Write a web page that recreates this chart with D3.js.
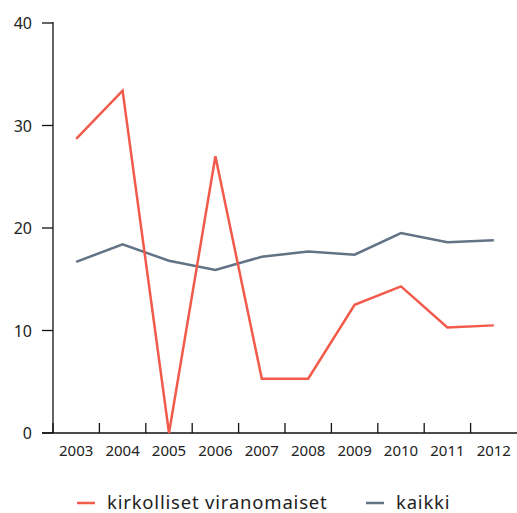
<!DOCTYPE html>
<html>
<head>
<meta charset="utf-8">
<script src="https://cdn.jsdelivr.net/npm/d3@7"></script>
<style>
  body { margin: 0; background: #fff; }
  text { font-family: "Noto Sans", sans-serif; fill: #222; }
</style>
</head>
<body>
<div id="chart"></div>
<script>
var years = ["2003","2004","2005","2006","2007","2008","2009","2010","2011","2012"];
var kirkolliset = [28.7, 33.4, 0, 27.0, 5.3, 5.3, 12.5, 14.3, 10.3, 10.5];
var kaikki = [16.7, 18.4, 16.8, 15.9, 17.2, 17.7, 17.4, 19.5, 18.6, 18.8];
var yTicks = [0, 10, 20, 30, 40];
var seriesNames = ["kirkolliset viranomaiset", "kaikki"];
var seriesColors = ["#f25a4b", "#627386"];

var width = 517, height = 513;
var mLeft = 53, mRight = 517, mTop = 23, mBottom = 433;

var svg = d3.select('#chart').append('svg')
    .attr('width', width)
    .attr('height', height);

var x = d3.scaleBand().domain(years).range([mLeft, mRight]);
var y = d3.scaleLinear().domain([0, 40]).range([mBottom, mTop]);

// x axis: line, ticks at band boundaries pointing up
svg.append('line')
    .attr('x1', 42).attr('x2', mRight)
    .attr('y1', mBottom).attr('y2', mBottom)
    .attr('stroke', '#111').attr('stroke-width', 1.3);

svg.selectAll('.xtick')
    .data(years)
    .enter().append('line')
      .attr('class', 'xtick')
      .attr('x1', function(d) { return x(d); })
      .attr('x2', function(d) { return x(d); })
      .attr('y1', mBottom).attr('y2', mBottom - 10)
      .attr('stroke', '#111').attr('stroke-width', 1.3);

svg.selectAll('.xlabel')
    .data(years)
    .enter().append('text')
      .attr('class', 'xlabel')
      .attr('x', function(d) { return x(d) + x.bandwidth() / 2; })
      .attr('y', mBottom + 23)
      .attr('text-anchor', 'middle')
      .style('font-size', '15px')
      .text(function(d) { return d; });

// y axis
svg.append('line')
    .attr('x1', mLeft).attr('x2', mLeft)
    .attr('y1', mTop - 1).attr('y2', mBottom)
    .attr('stroke', '#111').attr('stroke-width', 1.3);

svg.selectAll('.ytick')
    .data(yTicks)
    .enter().append('line')
      .attr('class', 'ytick')
      .attr('x1', 42).attr('x2', mLeft)
      .attr('y1', function(d) { return y(d); })
      .attr('y2', function(d) { return y(d); })
      .attr('stroke', '#111').attr('stroke-width', 1.3);

svg.selectAll('.ylabel')
    .data(yTicks)
    .enter().append('text')
      .attr('class', 'ylabel')
      .attr('x', 32)
      .attr('y', function(d) { return y(d) + 6; })
      .attr('text-anchor', 'end')
      .style('font-size', '16px')
      .text(function(d) { return d; });

// lines
var line = d3.line()
    .x(function(d, i) { return x(years[i]) + x.bandwidth() / 2; })
    .y(function(d) { return y(d); });

[kaikki, kirkolliset].forEach(function(s, k) {
  svg.append('path')
      .datum(s)
      .attr('d', line)
      .attr('fill', 'none')
      .attr('stroke', k == 0 ? seriesColors[1] : seriesColors[0])
      .attr('stroke-width', 2.5)
      .attr('stroke-linejoin', 'miter');
});

// legend
var legendX = [77, 366];
var legend = svg.selectAll('.legend')
    .data(seriesNames)
    .enter().append('g')
      .attr('class', 'legend')
      .attr('transform', function(d, i) { return 'translate(' + legendX[i] + ',503)'; });

legend.append('line')
    .attr('x1', 0).attr('x2', 18)
    .attr('y1', 0).attr('y2', 0)
    .attr('stroke', function(d, i) { return seriesColors[i]; })
    .attr('stroke-width', 2.5);

legend.append('text')
    .attr('x', 30)
    .attr('y', 6)
    .style('font-size', '18.5px')
    .style('letter-spacing', '0.8px')
    .text(function(d) { return d; });
</script>
</body>
</html>
